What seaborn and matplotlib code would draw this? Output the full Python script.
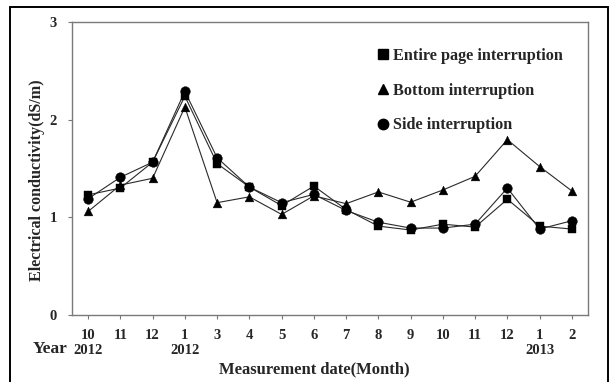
import numpy as np
import pandas as pd
import matplotlib
matplotlib.use("Agg")
import matplotlib.pyplot as plt
from matplotlib.lines import Line2D
from matplotlib.patches import Rectangle
import seaborn as sns

# Measurement months (Oct 2012 - Feb 2013 season) and year markers under them
months = ["10", "11", "12", "1", "3", "4", "5", "6", "7", "8", "9", "10", "11", "12", "1", "2"]
years = ["2012", "", "", "2012", "", "", "", "", "", "", "", "", "", "", "2013", ""]

# Electrical conductivity (dS/m) per treatment
entire_page = [1.23, 1.30, 1.565, 2.24, 1.55, 1.31, 1.12, 1.32, 1.08, 0.91, 0.87, 0.93, 0.90, 1.185, 0.91, 0.88]
bottom = [1.06, 1.33, 1.40, 2.13, 1.15, 1.21, 1.03, 1.22, 1.14, 1.26, 1.155, 1.28, 1.42, 1.795, 1.52, 1.27]
side = [1.19, 1.41, 1.565, 2.29, 1.61, 1.31, 1.15, 1.235, 1.07, 0.95, 0.89, 0.89, 0.93, 1.30, 0.88, 0.965]

series_names = ["Entire page interruption", "Bottom interruption", "Side interruption"]
series_markers = {"Entire page interruption": "s",
                  "Bottom interruption": "^",
                  "Side interruption": "o"}

pos = np.arange(len(months))
df = pd.concat([
    pd.DataFrame({"pos": pos, "ec": vals, "treatment": name})
    for name, vals in zip(series_names, [entire_page, bottom, side])
])

sns.set_theme(style="white")
plt.rcParams["font.family"] = ["Liberation Serif", "DejaVu Serif"]
plt.rcParams["font.weight"] = "bold"

fig = plt.figure(figsize=(6.09, 3.82), dpi=100)
ax = fig.add_axes([0.1182, 0.1754, 0.8473, 0.767])

# connecting lines
sns.lineplot(data=df, x="pos", y="ec", units="treatment", estimator=None,
             color="#2a2a2a", linewidth=0.8, ax=ax, legend=False)
# markers
sizes = {"Entire page interruption": 38, "Bottom interruption": 40, "Side interruption": 48}
for name in series_names:
    sub = df[df["treatment"] == name]
    sns.scatterplot(data=sub, x="pos", y="ec", marker=series_markers[name],
                    s=sizes[name], color="black", edgecolor="black",
                    linewidth=0.3, ax=ax, legend=False, zorder=3)

ax.set_xlim(-0.5, len(months) - 0.5)
ax.set_ylim(0, 3)
ax.set_yticks([0, 1, 2, 3])
ax.set_yticklabels(["0", "1", "2", "3"], fontsize=10.5, fontweight="bold")
ax.set_xticks(pos)
ax.set_xticklabels([f"{m}\n{y}" for m, y in zip(months, years)],
                   fontsize=10.5, fontweight="bold", linespacing=1.2)
ax.tick_params(axis="both", which="both", direction="out", length=3,
               width=0.8, color="#777777", bottom=True, left=True)
ax.tick_params(axis="x", pad=7)
ax.tick_params(axis="y", pad=8)
for sp in ax.spines.values():
    sp.set_color("#7a7a7a")
    sp.set_linewidth(1.0)

ax.set_xlabel("Measurement date(Month)", fontsize=12, fontweight="bold")
ax.xaxis.set_label_coords(0.47, -0.16)
ax.set_ylabel("Electrical conductivity(dS/m)", fontsize=11.6, fontweight="bold")
ax.yaxis.set_label_coords(-0.053, 0.46)

fig.text(50 / 609, 1 - 349 / 382, "Year", fontsize=12.5, fontweight="bold",
         ha="center", va="center")

handles = [Line2D([], [], linestyle="none", marker=series_markers[n], color="black",
                  markersize=6.5 if n != "Side interruption" else 7.5)
           for n in series_names]
leg = ax.legend(handles, series_names, loc="upper left",
                bbox_to_anchor=((378 - 72) / 516, 1 - (48 - 22) / 293),
                frameon=False, handlelength=0.6, handletextpad=0.35,
                labelspacing=1.15, borderaxespad=0, borderpad=0,
                prop={"family": "Liberation Serif", "weight": "bold", "size": 11.7})

# outer frame around the whole figure
fig.patches.append(Rectangle((10 / 609, -0.02), 598 / 609 - 0.0005, 1 - 7 / 382 + 0.02,
                             transform=fig.transFigure, fill=False,
                             edgecolor="black", linewidth=1.4))

fig.savefig("out.png", dpi=100)
